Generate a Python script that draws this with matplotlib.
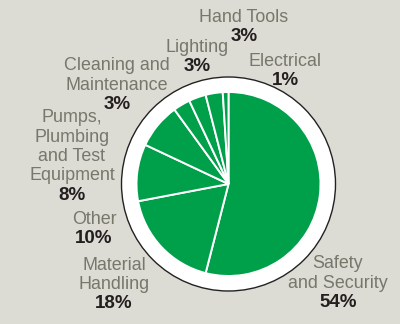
import matplotlib
matplotlib.use("Agg")
import matplotlib.pyplot as plt
from matplotlib.patches import Circle

categories = ["Safety\nand Security", "Material\nHandling", "Other",
              "Pumps,\nPlumbing\nand Test\nEquipment", "Cleaning and\nMaintenance",
              "Lighting", "Hand Tools", "Electrical"]
values = [54, 18, 10, 8, 3, 3, 3, 1]
pct_labels = ["54%", "18%", "10%", "8%", "3%", "3%", "3%", "1%"]

# label anchor positions (pixel coords from top-left): x center, y of first line
label_pos = [(338, 264), (114, 265), (94, 219), (72, 118), (117, 66),
             (197, 47), (244, 17), (285, 61)]

BG = "#dcdbd4"
GREEN = "#00a04b"
GREY = "#77776b"
DARK = "#231f20"

W, H = 400, 324
fig = plt.figure(figsize=(W / 100, H / 100), dpi=100, facecolor=BG)
ax = fig.add_axes([0, 0, 1, 1])
ax.set_xlim(0, W)
ax.set_ylim(0, H)
ax.set_aspect("equal")
ax.axis("off")

cx, cy = 228.5, H - 184
ax.add_patch(Circle((cx, cy), 107, facecolor="white", edgecolor="#222222", lw=1.0, zorder=1))
ax.pie(values, center=(cx, cy), radius=92, startangle=90, counterclock=False,
       colors=[GREEN] * len(values),
       wedgeprops=dict(edgecolor="white", linewidth=1.4, zorder=2), frame=True)
ax.set_xlim(0, W)
ax.set_ylim(0, H)
ax.axis("off")

fs = 12.9
fs_pct = 13.5
lh = 19.3
for cat, pct, (x, y) in zip(categories, pct_labels, label_pos):
    lines = cat.split("\n")
    for i, ln in enumerate(lines):
        ax.text(x, H - (y + i * lh), ln, ha="center", va="center", fontsize=fs,
                color=GREY, family="Liberation Sans", zorder=5)
    ax.text(x, H - (y + len(lines) * lh), pct, ha="center", va="center", fontsize=fs_pct,
            color=DARK, family="Liberation Sans", fontweight="bold", zorder=5)

fig.savefig("out.png", dpi=100, facecolor=BG)
